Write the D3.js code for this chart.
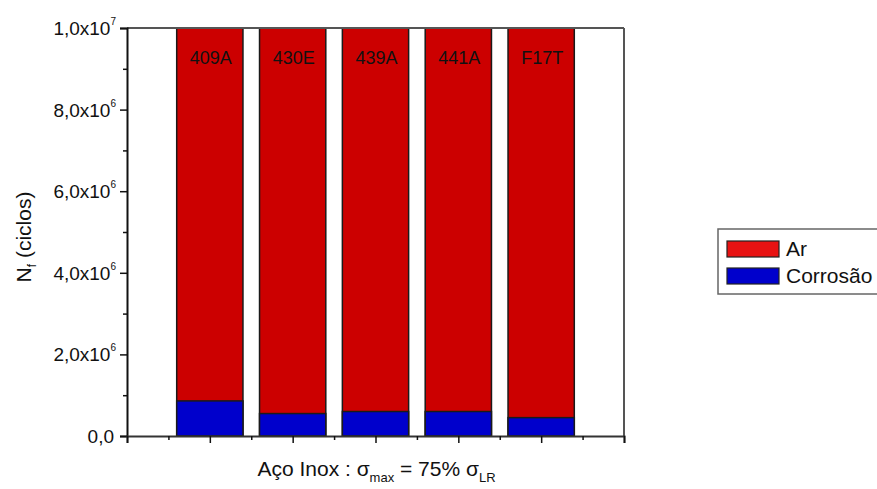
<!DOCTYPE html>
<html>
<head>
<meta charset="utf-8">
<script src="https://cdn.jsdelivr.net/npm/d3@7"></script>
<style>
  body { margin: 0; background: #fff; }
  text { font-family: Arial, "Liberation Sans", sans-serif; fill: #111; }
</style>
</head>
<body>
<div id="chart"></div>
<script>
// data
const steels = ["409A", "430E", "439A", "441A", "F17T"];
const arCycles = [1e7, 1e7, 1e7, 1e7, 1e7];
const corrosionCycles = [0.86e6, 0.55e6, 0.6e6, 0.6e6, 0.45e6];
const yTickValues = [0, 2e6, 4e6, 6e6, 8e6, 1e7];
const yTickMantissa = ["0,0", "2,0x10", "4,0x10", "6,0x10", "8,0x10", "1,0x10"];
const yTickExponent = ["", "6", "6", "6", "6", "7"];
const seriesNames = ["Ar", "Corrosão"];
const seriesColors = ["#cc0000", "#0000cc"];
const legendColors = ["#e81212", "#0000cc"];

const width = 877, height = 489;
const margin = { top: 28, right: 253, bottom: 53, left: 127 };
const innerW = width - margin.left - margin.right;
const innerH = height - margin.top - margin.bottom;

const svg = d3.select("#chart").append("svg")
  .attr("width", width)
  .attr("height", height);

const g = svg.append("g")
  .attr("transform", `translate(${margin.left},${margin.top})`);

const x = d3.scaleLinear().domain([0, steels.length + 1]).range([0, innerW]);
const y = d3.scaleLinear().domain([0, 1e7]).range([innerH, 0]);
const barW = (x(1) - x(0)) * 0.8;

// red bars (Ar)
g.selectAll(".bar-ar")
  .data(steels)
  .join("rect")
  .attr("class", "bar-ar")
  .attr("x", (d, i) => x(i + 1) - barW / 2)
  .attr("y", (d, i) => y(arCycles[i]))
  .attr("width", barW)
  .attr("height", (d, i) => y(0) - y(arCycles[i]))
  .attr("fill", seriesColors[0])
  .attr("stroke", "#1a1a1a")
  .attr("stroke-width", 1.5);

// blue bars (Corrosao) in front
g.selectAll(".bar-cor")
  .data(steels)
  .join("rect")
  .attr("class", "bar-cor")
  .attr("x", (d, i) => x(i + 1) - barW / 2)
  .attr("y", (d, i) => y(corrosionCycles[i]))
  .attr("width", barW)
  .attr("height", (d, i) => y(0) - y(corrosionCycles[i]))
  .attr("fill", seriesColors[1])
  .attr("stroke", "#1a1a1a")
  .attr("stroke-width", 1.5);

// labels inside the bars
g.selectAll(".bar-label")
  .data(steels)
  .join("text")
  .attr("class", "bar-label")
  .attr("x", (d, i) => x(i + 1) + 1)
  .attr("y", y(1e7) + 36)
  .attr("text-anchor", "middle")
  .attr("font-size", 18)
  .text(d => d);

// frame top/right
g.append("line")
  .attr("x1", 0).attr("x2", innerW).attr("y1", 0).attr("y2", 0)
  .attr("stroke", "#555").attr("stroke-width", 2);
g.append("line")
  .attr("x1", innerW).attr("x2", innerW).attr("y1", 0).attr("y2", innerH)
  .attr("stroke", "#555").attr("stroke-width", 2);

// y axis
const yAxis = d3.axisLeft(y)
  .tickValues(yTickValues)
  .tickSize(7)
  .tickPadding(4)
  .tickFormat("");
const yAxisG = g.append("g").call(yAxis);
yAxisG.select(".domain").attr("stroke", "#111").attr("stroke-width", 2);
yAxisG.selectAll(".tick line").attr("stroke", "#111").attr("stroke-width", 1.5);
yAxisG.selectAll(".tick text")
  .attr("font-size", 19)
  .attr("dy", "0.34em")
  .each(function(d, i) {
    const t = d3.select(this);
    t.append("tspan").text(yTickMantissa[i]);
    if (yTickExponent[i]) {
      t.append("tspan").attr("font-size", 10).attr("dy", "-1em").text(yTickExponent[i]);
    } else {
      t.append("tspan").attr("font-size", 10).text("\u2009");
    }
  });

const yMinor = d3.axisLeft(y)
  .tickValues(d3.range(1e6, 1e7, 2e6))
  .tickSize(4)
  .tickFormat("");
const yMinorG = g.append("g").call(yMinor);
yMinorG.select(".domain").remove();
yMinorG.selectAll(".tick line").attr("stroke", "#111").attr("stroke-width", 1.5);

// x axis
const xAxis = d3.axisBottom(x)
  .tickValues(d3.range(0, steels.length + 2))
  .tickSize(7)
  .tickFormat("");
const xAxisG = g.append("g").attr("transform", `translate(0,${innerH})`).call(xAxis);
xAxisG.select(".domain").attr("stroke", "#333").attr("stroke-width", 2);
xAxisG.selectAll(".tick line").attr("stroke", "#111").attr("stroke-width", 1.5);

const xMinor = d3.axisBottom(x)
  .tickValues(d3.range(0.5, steels.length + 1, 1))
  .tickSize(4)
  .tickFormat("");
const xMinorG = g.append("g").attr("transform", `translate(0,${innerH})`).call(xMinor);
xMinorG.select(".domain").remove();
xMinorG.selectAll(".tick line").attr("stroke", "#111").attr("stroke-width", 1.5);

// y title
const yTitle = svg.append("text")
  .attr("transform", `translate(31,${margin.top + innerH / 2 + 5}) rotate(-90)`)
  .attr("text-anchor", "middle")
  .attr("font-size", 21);
yTitle.append("tspan").text("N");
yTitle.append("tspan").attr("font-size", 12).attr("dy", 5).text("f");
yTitle.append("tspan").attr("dy", -5).text(" (ciclos)");

// x title
const xTitle = svg.append("text")
  .attr("x", margin.left + innerW / 2 + 1)
  .attr("y", 476)
  .attr("text-anchor", "middle")
  .attr("font-size", 21);
xTitle.append("tspan").text("Aço Inox : σ");
xTitle.append("tspan").attr("font-size", 13).attr("dy", 6).text("max");
xTitle.append("tspan").attr("dy", -6).text(" = 75% σ");
xTitle.append("tspan").attr("font-size", 13).attr("dy", 6).text("LR");

// legend
const legend = svg.append("g").attr("transform", "translate(718,229)");
legend.append("rect")
  .attr("width", 170).attr("height", 65)
  .attr("fill", "#fff").attr("stroke", "#666").attr("stroke-width", 1.5);
const items = legend.selectAll(".item")
  .data(seriesNames)
  .join("g")
  .attr("class", "item")
  .attr("transform", (d, i) => `translate(9,${12 + i * 27})`);
items.append("rect")
  .attr("width", 52).attr("height", 16)
  .attr("fill", (d, i) => legendColors[i])
  .attr("stroke", "#222").attr("stroke-width", 1.2);
items.append("text")
  .attr("x", 59).attr("y", 15)
  .attr("font-size", 21)
  .text(d => d);
</script>
</body>
</html>
